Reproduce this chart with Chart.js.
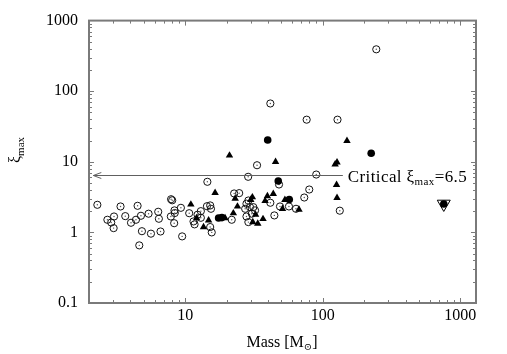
<!DOCTYPE html>
<html><head><meta charset="utf-8">
<script src="https://cdn.jsdelivr.net/npm/chart.js@4"></script>
<style>html,body{margin:0;padding:0;background:#fff}canvas{display:block}</style>
</head><body>
<canvas id="c" width="507" height="354"></canvas>
<script>
// Open circles (x = mass, y = xi_max)
const openX = [2.3, 2.72, 2.9, 3.04, 3.02, 3.39, 3.67, 4.04, 4.39, 4.51, 4.77, 4.85, 4.64, 5.42, 5.64, 6.37, 6.44, 6.62, 7.9, 8.05,
  7.87, 8.36, 8.4, 8.32, 9.31, 9.51, 10.7, 14.5, 11.5, 11.7, 12.3, 13.0, 13.0, 14.4, 15.2, 15.4, 15.2, 15.6, 21.8, 22.7,
  24.7, 28.7, 33.3, 41.6, 89.7, 48.1, 41.6, 79.8, 73.4, 56.8, 63.9, 48.9, 44.5, 28.8, 27.9, 29.6, 27.3, 31.3, 32.2, 30.5,
  27.9, 28.8, 133, 76.4, 128, 245];
const openY = [2.46, 1.51, 1.38, 1.68, 1.15, 2.33, 1.70, 1.37, 1.51, 2.38, 1.72, 1.04, 0.655, 1.84, 0.96, 1.96, 1.56, 1.03, 2.95, 2.85,
  1.68, 2.05, 1.88, 1.35, 2.23, 0.878, 1.87, 5.21, 1.43, 1.30, 1.78, 2.0, 1.61, 2.35, 2.41, 2.16, 1.19, 1.0, 1.51, 3.56,
  3.6, 6.13, 8.94, 2.63, 6.6, 4.77, 67, 4.05, 3.12, 2.33, 2.16, 2.33, 1.74, 2.83, 2.55, 2.28, 2.16, 2.28, 2.05, 1.84,
  1.68, 1.40, 2.03, 39.5, 39.5, 392];
// Filled triangles
const triX = [21, 45.4, 16.5, 11.0, 23.1, 12.1, 14.8, 13.6, 19.5, 22.4, 24.0, 30.8, 30.0, 39.6, 43.7, 38.1, 53.1, 67.2, 51.0, 32.5,
  36.8, 31.0, 33.7, 150, 127, 123, 126, 127];
const triY = [12.3, 10, 3.64, 2.49, 3.02, 1.60, 1.48, 1.19, 1.6, 1.87, 2.33, 3.15, 2.9, 3.26, 3.52, 2.79, 2.9, 2.11, 2.16, 1.78,
  1.55, 1.40, 1.33, 19.8, 9.8, 9.2, 4.72, 3.09];
// Filled circles
const fillX = [39.8, 47.5, 57.1, 225, 17.5, 18.5, 758];
const fillY = [20.4, 5.35, 2.93, 13.2, 1.6, 1.62, 2.53];
// Open inverted triangle
const invX = [758];
const invY = [2.53];

const xMin = 2, xMax = 1300, yMin = 0.1, yMax = 1000;
const critValue = 6.5, critArrowX = 2.15, critLineEndX = 140, critLabelX = 152;

const SERIF = "'Liberation Serif', 'DejaVu Serif', serif";
function pts(xs, ys){ return xs.map((x, i) => ({x: x, y: ys[i]})); }
function isPow10(v){ const l = Math.log10(v); return Math.abs(l - Math.round(l)) < 1e-6; }

const framePlugin = {
  id: 'frame',
  afterDraw(chart){
    const ctx = chart.ctx, a = chart.chartArea, xs = chart.scales.x, ys = chart.scales.y;
    ctx.save();
    ctx.strokeStyle = '#7a7a7a';
    ctx.lineWidth = 1;
    ctx.beginPath();
    for (let e = 0; e <= 3; e++) for (let m = 1; m <= 9; m++) {
      const v = m * Math.pow(10, e);
      if (v <= xMin || v >= xMax) continue;
      const len = m === 1 ? 5 : 3;
      const px = Math.round(xs.getPixelForValue(v)) + 0.5;
      ctx.moveTo(px, a.bottom); ctx.lineTo(px, a.bottom - len);
      ctx.moveTo(px, a.top); ctx.lineTo(px, a.top + len);
    }
    for (let e = -1; e <= 2; e++) for (let m = 1; m <= 9; m++) {
      const v = m * Math.pow(10, e);
      if (v <= yMin || v >= yMax) continue;
      const len = m === 1 ? 5 : 3;
      const py = Math.round(ys.getPixelForValue(v)) + 0.5;
      ctx.moveTo(a.left, py); ctx.lineTo(a.left + len, py);
      ctx.moveTo(a.right, py); ctx.lineTo(a.right - len, py);
    }
    ctx.stroke();
    ctx.lineWidth = 2;
    ctx.strokeRect(a.left, a.top, a.right - a.left, a.bottom - a.top);

    // critical line with arrow
    const cy = Math.round(ys.getPixelForValue(critValue)) + 0.5;
    const x0 = xs.getPixelForValue(critArrowX), x1 = xs.getPixelForValue(critLineEndX);
    ctx.strokeStyle = '#606060';
    ctx.lineWidth = 1;
    ctx.beginPath();
    ctx.moveTo(x1, cy); ctx.lineTo(x0, cy);
    ctx.moveTo(x0 + 8, cy - 3); ctx.lineTo(x0, cy); ctx.lineTo(x0 + 8, cy + 3);
    ctx.stroke();

    ctx.fillStyle = '#000';
    ctx.textBaseline = 'alphabetic';
    ctx.textAlign = 'left';
    let tx = xs.getPixelForValue(critLabelX);
    const by = cy + 6;
    if ('letterSpacing' in ctx) ctx.letterSpacing = '0.4px';
    ctx.font = '17px ' + SERIF;
    ctx.fillText('Critical \u03be', tx, by); tx += ctx.measureText('Critical \u03be').width;
    ctx.font = '11px ' + SERIF;
    ctx.fillText('max', tx, by + 3.5); tx += ctx.measureText('max').width;
    ctx.font = '17px ' + SERIF;
    ctx.fillText('=6.5', tx, by);
    if ('letterSpacing' in ctx) ctx.letterSpacing = '0px';

    // x axis title
    ctx.font = '16px ' + SERIF;
    const w1 = ctx.measureText('Mass [M').width;
    ctx.font = '10px ' + SERIF;
    const w2 = ctx.measureText('\u2299').width;
    ctx.font = '16px ' + SERIF;
    const w3 = ctx.measureText(']').width;
    let mx = 282 - (w1 + w2 + w3) / 2;
    const my = 347;
    ctx.fillText('Mass [M', mx, my); mx += w1;
    ctx.font = '10px ' + SERIF;
    ctx.fillText('\u2299', mx, my + 3); mx += w2;
    ctx.font = '16px ' + SERIF;
    ctx.fillText(']', mx, my);

    // y axis title
    ctx.translate(20, 150);
    ctx.rotate(-Math.PI / 2);
    ctx.font = '16px ' + SERIF;
    const a1 = ctx.measureText('\u03be').width;
    ctx.font = '11px ' + SERIF;
    const a2 = ctx.measureText('max').width;
    let yx = -(a1 + a2) / 2;
    ctx.font = '16px ' + SERIF;
    ctx.fillText('\u03be', yx, 0); yx += a1;
    ctx.font = '11px ' + SERIF;
    ctx.fillText('max', yx, 3.5);
    ctx.restore();
  }
};

new Chart(document.getElementById('c'), {
  type: 'scatter',
  data: {
    datasets: [
      {data: pts(invX, invY), pointStyle: 'triangle', rotation: 180, pointRadius: 7.5, backgroundColor: 'rgba(0,0,0,0)', borderColor: '#000', borderWidth: 1},
      {data: pts(fillX, fillY), pointStyle: 'circle', pointRadius: 3.8, backgroundColor: '#000', borderColor: '#000', borderWidth: 0},
      {data: pts(triX, triY), pointStyle: 'triangle', pointRadius: 4.3, backgroundColor: '#000', borderColor: '#000', borderWidth: 0},
      {data: pts(openX, openY), pointStyle: 'circle', pointRadius: 0.7, backgroundColor: '#555', borderWidth: 0},
      {data: pts(openX, openY), pointStyle: 'circle', pointRadius: 3.6, backgroundColor: 'rgba(0,0,0,0)', borderColor: '#111', borderWidth: 1}
    ]
  },
  options: {
    responsive: false,
    animation: false,
    devicePixelRatio: 1,
    layout: {padding: {top: 20, right: 31, left: 0, bottom: 0}},
    plugins: {legend: {display: false}, tooltip: {enabled: false}},
    elements: {point: {hoverRadius: 0}},
    scales: {
      x: {
        type: 'logarithmic', min: xMin, max: xMax,
        grid: {display: false, drawTicks: false, tickLength: 0},
        border: {display: false},
        ticks: {autoSkip: false, maxRotation: 0, padding: 3, color: '#000', font: {family: SERIF, size: 16},
          callback: (v) => isPow10(v) ? String(v) : ''},
        afterFit: (s) => { s.height = 51; }
      },
      y: {
        type: 'logarithmic', min: yMin, max: yMax,
        grid: {display: false, drawTicks: false, tickLength: 0},
        border: {display: false},
        ticks: {autoSkip: false, padding: 11, color: '#000', font: {family: SERIF, size: 16},
          callback: (v) => isPow10(v) ? String(v) : ''},
        afterFit: (s) => { s.width = 89; }
      }
    }
  },
  plugins: [framePlugin]
});
</script>
</body></html>
